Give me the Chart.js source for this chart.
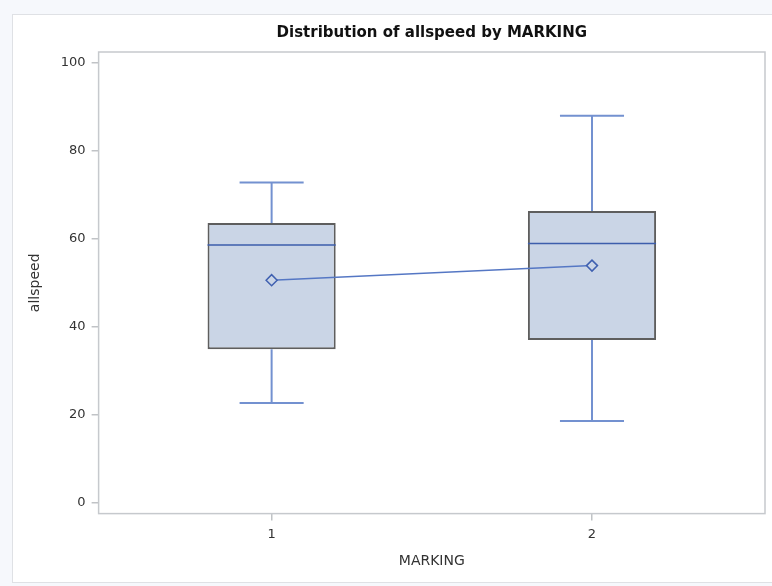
<!DOCTYPE html>
<html>
<head>
<meta charset="utf-8">
<script src="https://cdn.jsdelivr.net/npm/chart.js@4"></script>
<style>
  html, body { margin: 0; padding: 0; width: 772px; height: 586px; overflow: hidden; background: #f6f8fc; }
  #panel { position: absolute; left: 12px; top: 14px; width: 780px; height: 567px; background: #fff; border: 1px solid #dfe1e5; }
  #boxChart { position: absolute; left: 0; top: 0; }
</style>
</head>
<body>
<div id="panel"></div>
<canvas id="boxChart" width="772" height="586"></canvas>
<script>
// values
const markings = [1, 2];
const whiskerLow = [22.7, 18.6];
const q1 = [34.9, 37.0];
const median = [58.6, 58.9];
const q3 = [63.6, 66.3];
const whiskerHigh = [72.8, 87.9];
const means = [50.6, 53.9];
const yTicks = [0, 20, 40, 60, 80, 100];

const BOX_HALF = 0.2;
const CAP_HALF = 0.1;
const FONT = 'DejaVu Sans';

// build segment lists (null y breaks the line)
const whiskers = [], caps = [], medians = [];
markings.forEach((m, i) => {
  whiskers.push({ x: m, y: q3[i] }, { x: m, y: whiskerHigh[i] }, { x: m, y: null },
                { x: m, y: q1[i] }, { x: m, y: whiskerLow[i] }, { x: m, y: null });
  caps.push({ x: m - CAP_HALF, y: whiskerHigh[i] }, { x: m + CAP_HALF, y: whiskerHigh[i] }, { x: m, y: null },
            { x: m - CAP_HALF, y: whiskerLow[i] }, { x: m + CAP_HALF, y: whiskerLow[i] }, { x: m, y: null });
  medians.push({ x: m - BOX_HALF, y: median[i] }, { x: m + BOX_HALF, y: median[i] }, { x: m, y: null });
});

// light frame round the plot area
const framePlugin = {
  id: 'frame',
  beforeDatasetsDraw(chart) {
    const a = chart.chartArea, ctx = chart.ctx;
    ctx.save();
    ctx.strokeStyle = '#c6c9cd';
    ctx.lineWidth = 1.5;
    ctx.strokeRect(a.left, a.top, a.right - a.left, a.bottom - a.top);
    ctx.restore();
  }
};

const ctx = document.getElementById('boxChart').getContext('2d');

new Chart(ctx, {
  type: 'bar',
  data: {
    datasets: [
      {
        type: 'line',
        data: markings.map((m, i) => ({ x: m, y: means[i] })),
        borderColor: '#5577c4',
        borderWidth: 1.5,
        pointStyle: 'rectRot',
        pointRadius: 5.5,
        pointBorderWidth: 1.5,
        pointBorderColor: '#3f60b0',
        pointBackgroundColor: '#cad5e6',
        order: 0
      },
      {
        type: 'line',
        data: medians,
        borderColor: '#3d5eac',
        borderWidth: 1.5,
        pointRadius: 0,
        spanGaps: false,
        order: 1
      },
      {
        type: 'line',
        data: whiskers.concat(caps),
        borderColor: '#7391d0',
        borderWidth: 2,
        pointRadius: 0,
        spanGaps: false,
        order: 2
      },
      {
        type: 'bar',
        data: markings.map((m, i) => ({ x: m, y: [q1[i], q3[i]] })),
        backgroundColor: '#cad5e6',
        borderColor: '#5e5e5e',
        borderWidth: 2,
        borderSkipped: false,
        categoryPercentage: 0.4,
        barPercentage: 1,
        order: 3
      }
    ]
  },
  options: {
    responsive: false,
    devicePixelRatio: 1,
    animation: false,
    layout: { padding: { left: 10, right: 7, top: 0, bottom: 12 } },
    plugins: {
      legend: { display: false },
      tooltip: { enabled: false },
      title: {
        display: true,
        text: 'Distribution of allspeed by MARKING',
        fullSize: false,
        color: '#111',
        font: { family: FONT, size: 15, weight: 'bold' },
        padding: { top: 24, bottom: 10 }
      }
    },
    scales: {
      x: {
        type: 'linear',
        min: 0.46,
        max: 2.54,
        offset: false,
        afterBuildTicks: (scale) => { scale.ticks = markings.map(v => ({ value: v })); },
        grid: { offset: false, drawOnChartArea: false, drawTicks: true, tickLength: 7, color: '#c0c3c6', lineWidth: 1.5 },
        border: { display: false },
        ticks: { color: '#333', font: { family: FONT, size: 13 }, padding: 6, callback: (v) => String(v) },
        title: { display: true, text: 'MARKING', color: '#333', font: { family: FONT, size: 14 }, padding: { top: 5, bottom: 4 } }
      },
      y: {
        min: -2.4,
        max: 102.4,
        afterBuildTicks: (scale) => { scale.ticks = yTicks.map(v => ({ value: v })); },
        grid: { drawOnChartArea: false, drawTicks: true, tickLength: 7, color: '#c0c3c6', lineWidth: 1.5 },
        border: { display: false },
        ticks: { color: '#333', font: { family: FONT, size: 13 }, padding: 6 },
        title: { display: true, text: 'allspeed', color: '#333', font: { family: FONT, size: 14 }, padding: { top: 17, bottom: 11 } }
      }
    }
  },
  plugins: [framePlugin]
});
</script>
</body>
</html>
